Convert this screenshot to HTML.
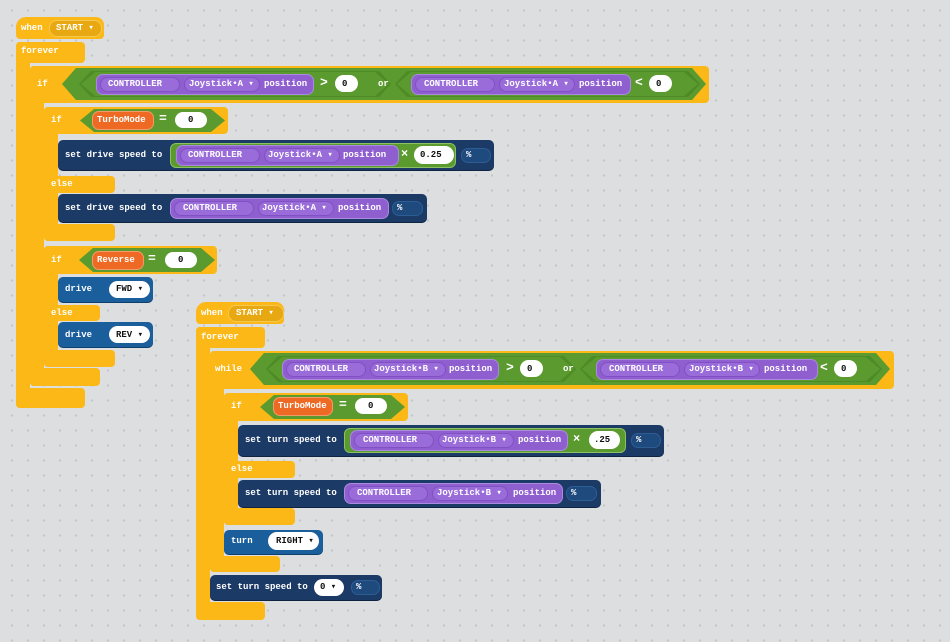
<!DOCTYPE html>
<html><head><meta charset="utf-8"><style>
body{margin:0;width:950px;height:642px;overflow:hidden;background:#dddee0;
background-image:radial-gradient(circle,#c4c5c8 1px,transparent 1.3px);background-size:16px 15px;background-position:4px 3px;position:relative;font-family:"Liberation Mono",monospace}
.a{position:absolute}
.y{position:absolute;background:#fbb817;border-radius:4px}
.n{position:absolute;background:#1c3a66;border-radius:5px;box-shadow:0 1px 0 #0f2442}
.b{position:absolute;background:#1a5e9c;border-radius:5px;box-shadow:0 1px 0 #0f3f6c}
.g{position:absolute;background:#5a9a2e;clip-path:polygon(14px 0,calc(100% - 14px) 0,100% 50%,calc(100% - 14px) 100%,14px 100%,0 50%)}
.gi{position:absolute;background:#4e8a26;clip-path:polygon(12px 0,calc(100% - 12px) 0,100% 50%,calc(100% - 12px) 100%,12px 100%,0 50%)}
.gr{position:absolute;background:#5a9a2e;border-radius:6px;border:1px solid #8cc063}
.p{position:absolute;background:#8f5fd0;border-radius:7px;border:1px solid #a98ae0}
.pi{position:absolute;background:#9a6cda;border-radius:8px;border:1px solid #8150c4;top:2px;bottom:2px}
.o{position:absolute;background:#ee6a24;border-radius:7px;border:1px solid #f39a6a}
.w{position:absolute;background:#fff;border-radius:9px}
.pc{position:absolute;background:#1f4a7e;border-radius:7px;border:1px solid #2c5d94}
.hp{position:absolute;background:#e7a812;border-radius:8px;border:1px solid #f5c850}
.t{position:absolute;font:bold 9px/12px "Liberation Mono",monospace;color:#fff;white-space:nowrap}
.k{color:#111}
</style></head><body>

<!-- ===== Program 1 ===== -->
<div class="y" style="left:16px;top:17px;width:88px;height:22px;border-radius:10px 8px 4px 4px"></div>
<div class="hp" style="left:49px;top:20px;width:51px;height:15px"></div>
<div class="t" style="left:21px;top:22px">when</div>
<div class="t" style="left:56px;top:22px">START ▾</div>

<div class="y" style="left:16px;top:42px;width:69px;height:21px"></div>
<div class="y" style="left:16px;top:42px;width:14px;height:366px"></div>
<div class="y" style="left:16px;top:388px;width:69px;height:20px"></div>
<div class="t" style="left:21px;top:45px">forever</div>

<div class="y" style="left:30px;top:66px;width:679px;height:37px"></div>
<div class="y" style="left:30px;top:66px;width:14px;height:320px"></div>
<div class="y" style="left:30px;top:368px;width:70px;height:18px"></div>
<div class="t" style="left:37px;top:78px">if</div>
<div class="g" style="left:62px;top:68px;width:644px;height:32px"></div>
<div class="gi" style="left:79px;top:71px;width:312px;height:26px"></div>
<div class="g" style="left:81px;top:72px;width:308px;height:24px"></div>
<div class="gi" style="left:395px;top:71px;width:305px;height:26px"></div>
<div class="g" style="left:397px;top:72px;width:301px;height:24px"></div>
<div class="p" style="left:96px;top:74px;width:216px;height:19px"><div class="pi" style="left:3px;width:78px"></div><div class="pi" style="left:87px;width:74px"></div></div>
<div class="t" style="left:108px;top:78px">CONTROLLER</div>
<div class="t" style="left:189px;top:78px">Joystick•A ▾</div>
<div class="t" style="left:264px;top:78px">position</div>
<div class="t" style="left:320px;top:77px;font-size:13px">&gt;</div>
<div class="w" style="left:335px;top:75px;width:23px;height:17px"></div>
<div class="t k" style="left:342px;top:78px">0</div>
<div class="t" style="left:378px;top:78px">or</div>
<div class="p" style="left:411px;top:74px;width:218px;height:19px"><div class="pi" style="left:3px;width:78px"></div><div class="pi" style="left:87px;width:74px"></div></div>
<div class="t" style="left:424px;top:78px">CONTROLLER</div>
<div class="t" style="left:504px;top:78px">Joystick•A ▾</div>
<div class="t" style="left:579px;top:78px">position</div>
<div class="t" style="left:635px;top:77px;font-size:13px">&lt;</div>
<div class="w" style="left:649px;top:75px;width:23px;height:17px"></div>
<div class="t k" style="left:656px;top:78px">0</div>

<!-- if TurboMode -->
<div class="y" style="left:44px;top:107px;width:184px;height:27px"></div>
<div class="y" style="left:44px;top:107px;width:14px;height:134px"></div>
<div class="y" style="left:44px;top:176px;width:71px;height:17px"></div>
<div class="y" style="left:44px;top:224px;width:71px;height:17px"></div>
<div class="t" style="left:51px;top:114px">if</div>
<div class="g" style="left:80px;top:109px;width:145px;height:23px"></div>
<div class="o" style="left:92px;top:111px;width:60px;height:17px"></div>
<div class="t" style="left:97px;top:114px">TurboMode</div>
<div class="t" style="left:159px;top:113px;font-size:13px">=</div>
<div class="w" style="left:175px;top:112px;width:32px;height:16px"></div>
<div class="t k" style="left:188px;top:114px">0</div>

<div class="n" style="left:58px;top:140px;width:436px;height:30px"></div>
<div class="t" style="left:65px;top:149px">set drive speed to</div>
<div class="gr" style="left:170px;top:143px;width:284px;height:23px"></div>
<div class="p" style="left:176px;top:145px;width:221px;height:19px"><div class="pi" style="left:3px;width:78px"></div><div class="pi" style="left:87px;width:74px"></div></div>
<div class="t" style="left:188px;top:149px">CONTROLLER</div>
<div class="t" style="left:268px;top:149px">Joystick•A ▾</div>
<div class="t" style="left:343px;top:149px">position</div>
<div class="t" style="left:401px;top:148px;font-size:12px">×</div>
<div class="w" style="left:414px;top:146px;width:40px;height:18px"></div>
<div class="t k" style="left:420px;top:149px">0.25</div>
<div class="pc" style="left:461px;top:148px;width:28px;height:13px"></div>
<div class="t" style="left:466px;top:149px">%</div>

<div class="t" style="left:51px;top:178px">else</div>
<div class="n" style="left:58px;top:194px;width:369px;height:28px"></div>
<div class="t" style="left:65px;top:202px">set drive speed to</div>
<div class="p" style="left:170px;top:198px;width:217px;height:19px"><div class="pi" style="left:3px;width:78px"></div><div class="pi" style="left:87px;width:74px"></div></div>
<div class="t" style="left:183px;top:202px">CONTROLLER</div>
<div class="t" style="left:262px;top:202px">Joystick•A ▾</div>
<div class="t" style="left:338px;top:202px">position</div>
<div class="pc" style="left:392px;top:201px;width:29px;height:13px"></div>
<div class="t" style="left:397px;top:202px">%</div>

<!-- if Reverse -->
<div class="y" style="left:44px;top:246px;width:173px;height:28px"></div>
<div class="y" style="left:44px;top:246px;width:14px;height:121px"></div>
<div class="y" style="left:44px;top:305px;width:56px;height:16px"></div>
<div class="y" style="left:44px;top:350px;width:71px;height:17px"></div>
<div class="t" style="left:51px;top:254px">if</div>
<div class="g" style="left:79px;top:248px;width:136px;height:24px"></div>
<div class="o" style="left:92px;top:251px;width:50px;height:17px"></div>
<div class="t" style="left:97px;top:254px">Reverse</div>
<div class="t" style="left:148px;top:253px;font-size:13px">=</div>
<div class="w" style="left:165px;top:252px;width:32px;height:16px"></div>
<div class="t k" style="left:178px;top:254px">0</div>

<div class="b" style="left:58px;top:277px;width:95px;height:25px"></div>
<div class="t" style="left:65px;top:283px">drive</div>
<div class="w" style="left:109px;top:281px;width:41px;height:17px"></div>
<div class="t k" style="left:116px;top:283px">FWD ▾</div>
<div class="t" style="left:51px;top:307px">else</div>
<div class="b" style="left:58px;top:322px;width:95px;height:25px"></div>
<div class="t" style="left:65px;top:329px">drive</div>
<div class="w" style="left:109px;top:326px;width:41px;height:17px"></div>
<div class="t k" style="left:116px;top:329px">REV ▾</div>

<!-- ===== Program 2 ===== -->
<div class="y" style="left:196px;top:302px;width:88px;height:22px;border-radius:10px 8px 4px 4px"></div>
<div class="hp" style="left:228px;top:305px;width:54px;height:15px"></div>
<div class="t" style="left:201px;top:307px">when</div>
<div class="t" style="left:236px;top:307px">START ▾</div>

<div class="y" style="left:196px;top:327px;width:69px;height:21px"></div>
<div class="y" style="left:196px;top:327px;width:14px;height:293px"></div>
<div class="y" style="left:196px;top:602px;width:69px;height:18px"></div>
<div class="t" style="left:201px;top:331px">forever</div>

<div class="y" style="left:210px;top:351px;width:684px;height:38px"></div>
<div class="y" style="left:210px;top:351px;width:14px;height:221px"></div>
<div class="y" style="left:210px;top:556px;width:70px;height:16px"></div>
<div class="t" style="left:215px;top:363px">while</div>
<div class="g" style="left:250px;top:353px;width:640px;height:32px"></div>
<div class="gi" style="left:266px;top:356px;width:310px;height:26px"></div>
<div class="g" style="left:268px;top:357px;width:306px;height:24px"></div>
<div class="gi" style="left:580px;top:356px;width:302px;height:26px"></div>
<div class="g" style="left:582px;top:357px;width:298px;height:24px"></div>
<div class="p" style="left:282px;top:359px;width:215px;height:19px"><div class="pi" style="left:3px;width:78px"></div><div class="pi" style="left:87px;width:74px"></div></div>
<div class="t" style="left:294px;top:363px">CONTROLLER</div>
<div class="t" style="left:374px;top:363px">Joystick•B ▾</div>
<div class="t" style="left:449px;top:363px">position</div>
<div class="t" style="left:506px;top:362px;font-size:13px">&gt;</div>
<div class="w" style="left:520px;top:360px;width:23px;height:17px"></div>
<div class="t k" style="left:527px;top:363px">0</div>
<div class="t" style="left:563px;top:363px">or</div>
<div class="p" style="left:596px;top:359px;width:220px;height:19px"><div class="pi" style="left:3px;width:78px"></div><div class="pi" style="left:87px;width:74px"></div></div>
<div class="t" style="left:609px;top:363px">CONTROLLER</div>
<div class="t" style="left:689px;top:363px">Joystick•B ▾</div>
<div class="t" style="left:764px;top:363px">position</div>
<div class="t" style="left:820px;top:362px;font-size:13px">&lt;</div>
<div class="w" style="left:834px;top:360px;width:23px;height:17px"></div>
<div class="t k" style="left:841px;top:363px">0</div>

<div class="y" style="left:224px;top:393px;width:184px;height:28px"></div>
<div class="y" style="left:224px;top:393px;width:14px;height:132px"></div>
<div class="y" style="left:224px;top:461px;width:71px;height:17px"></div>
<div class="y" style="left:224px;top:508px;width:71px;height:17px"></div>
<div class="t" style="left:231px;top:400px">if</div>
<div class="g" style="left:260px;top:395px;width:145px;height:24px"></div>
<div class="o" style="left:273px;top:397px;width:58px;height:17px"></div>
<div class="t" style="left:278px;top:400px">TurboMode</div>
<div class="t" style="left:339px;top:399px;font-size:13px">=</div>
<div class="w" style="left:355px;top:398px;width:32px;height:16px"></div>
<div class="t k" style="left:368px;top:400px">0</div>

<div class="n" style="left:238px;top:425px;width:426px;height:31px"></div>
<div class="t" style="left:245px;top:434px">set turn speed to</div>
<div class="gr" style="left:344px;top:428px;width:280px;height:23px"></div>
<div class="p" style="left:350px;top:430px;width:216px;height:19px"><div class="pi" style="left:3px;width:78px"></div><div class="pi" style="left:87px;width:74px"></div></div>
<div class="t" style="left:363px;top:434px">CONTROLLER</div>
<div class="t" style="left:442px;top:434px">Joystick•B ▾</div>
<div class="t" style="left:518px;top:434px">position</div>
<div class="t" style="left:573px;top:433px;font-size:12px">×</div>
<div class="w" style="left:589px;top:431px;width:31px;height:18px"></div>
<div class="t k" style="left:594px;top:434px">.25</div>
<div class="pc" style="left:631px;top:433px;width:28px;height:13px"></div>
<div class="t" style="left:636px;top:434px">%</div>

<div class="t" style="left:231px;top:463px">else</div>
<div class="n" style="left:238px;top:480px;width:363px;height:27px"></div>
<div class="t" style="left:245px;top:487px">set turn speed to</div>
<div class="p" style="left:344px;top:483px;width:217px;height:19px"><div class="pi" style="left:3px;width:78px"></div><div class="pi" style="left:87px;width:74px"></div></div>
<div class="t" style="left:357px;top:487px">CONTROLLER</div>
<div class="t" style="left:437px;top:487px">Joystick•B ▾</div>
<div class="t" style="left:513px;top:487px">position</div>
<div class="pc" style="left:566px;top:486px;width:29px;height:13px"></div>
<div class="t" style="left:571px;top:487px">%</div>

<div class="b" style="left:224px;top:530px;width:99px;height:24px"></div>
<div class="t" style="left:231px;top:535px">turn</div>
<div class="w" style="left:268px;top:532px;width:51px;height:18px"></div>
<div class="t k" style="left:276px;top:535px">RIGHT ▾</div>

<div class="n" style="left:210px;top:575px;width:172px;height:25px"></div>
<div class="t" style="left:216px;top:581px">set turn speed to</div>
<div class="w" style="left:314px;top:579px;width:30px;height:17px"></div>
<div class="t k" style="left:320px;top:581px">0 ▾</div>
<div class="pc" style="left:351px;top:580px;width:27px;height:13px"></div>
<div class="t" style="left:356px;top:581px">%</div>

</body></html>
